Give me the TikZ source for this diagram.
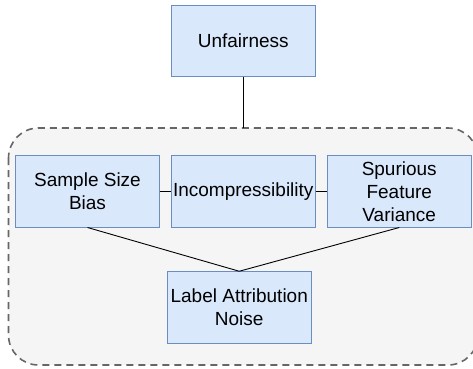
\documentclass[tikz,border=0pt]{standalone}
\usepackage{fontspec}
\setmainfont{Liberation Sans}
\definecolor{boxfill}{HTML}{DAE8FC}
\definecolor{boxline}{HTML}{6C8EBF}
\definecolor{grpfill}{HTML}{F5F5F5}
\definecolor{grpline}{HTML}{666666}
\begin{document}
\begin{tikzpicture}[x=1pt,y=-1pt,
  blk/.style={draw=boxline, fill=boxfill, line width=1pt, minimum width=143.5pt, minimum height=71.5pt, inner sep=0pt, align=center, font=\fontsize{19}{23}\selectfont},
  conn/.style={draw=black, line width=0.9pt}]
\useasboundingbox (0,0) rectangle (473,368);
\draw[fill=grpfill, draw=grpline, dashed, dash pattern=on 7pt off 5pt, line width=1.6pt, rounded corners=30pt] (8.5,128) rectangle (478,365);
\coordinate (gtop) at (243.25,128);
\node[blk] (unf) at (243.25,41) {Unfairness};
\node[blk] (ssb) at (87.5,191.25) {Sample Size\\Bias};
\node[blk] (inc) at (243.25,191.25) {Incompressibility};
\node[blk] (sfv) at (399.25,191.25) {Spurious\\Feature\\Variance};
\node[blk] (lan) at (239.25,307.5) {Label Attribution\\Noise};
\draw[conn] (unf.south) -- (gtop);
\draw[conn] (ssb.east) -- (inc.west);
\draw[conn] (inc.east) -- (sfv.west);
\draw[conn] (ssb.south) -- (lan.north);
\draw[conn] (sfv.south) -- (lan.north);
\end{tikzpicture}
\end{document}
